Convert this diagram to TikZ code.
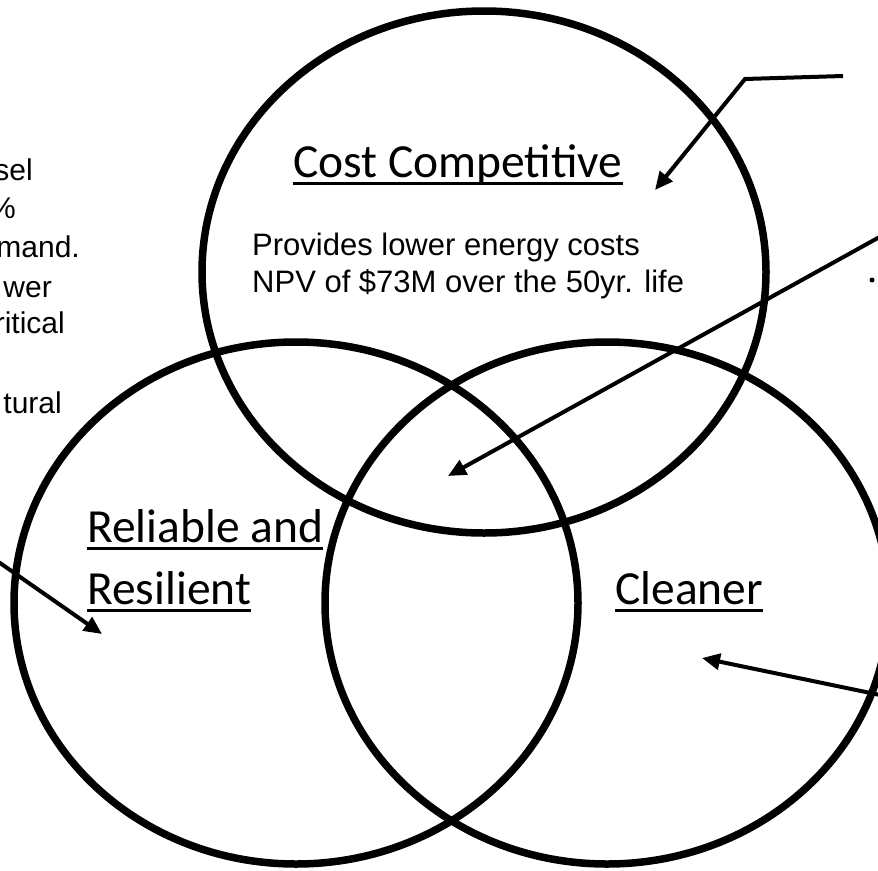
\documentclass[tikz,border=0pt]{standalone}
\usepackage{fontspec}
\setmainfont{Liberation Sans}
\newfontfamily\headfont{Carlito}
\usetikzlibrary{arrows.meta}
\begin{document}
\begin{tikzpicture}[x=1pt,y=-1pt,
  ring/.style={line width=7.5pt},
  pointer/.style={line width=4pt,-{Triangle[length=18pt,width=16pt]}},
  heading/.style={font=\headfont\fontsize{47.5}{58}\selectfont,inner sep=0pt,anchor=base west},
  body/.style={font=\fontsize{31}{37}\selectfont,inner sep=0pt,anchor=base west},
  side/.style={font=\fontsize{30}{38}\selectfont,inner sep=0pt,anchor=base east},
  rule/.style={line width=3pt}]
\useasboundingbox (0,0) rectangle (878,870);

% the three overlapping ovals
\draw[ring] (484,272) ellipse [x radius=282pt, y radius=261pt];
\draw[ring] (296,603) ellipse [x radius=282pt, y radius=261pt];
\draw[ring] (607,603) ellipse [x radius=282pt, y radius=261pt];

% headings with their underlines
\node[heading] (cost) at (293,177) {Cost Competitive};
\draw[rule] ([yshift=-6pt]cost.base west) -- ([yshift=-6pt]cost.base east);
\node[heading] (rel1) at (87,542) {Reliable and};
\draw[rule] ([yshift=-6pt]rel1.base west) -- ([yshift=-6pt]rel1.base east);
\node[heading] (rel2) at (87,604) {Resilient};
\draw[rule] ([yshift=-6pt]rel2.base west) -- ([yshift=-6pt]rel2.base east);
\node[heading] (clean) at (615,604) {Cleaner};
\draw[rule] ([yshift=-6pt]clean.base west) -- ([yshift=-6pt]clean.base east);

% body text of the top oval
\node[body] (costa) at (252,255) {Provides lower energy costs};
\node[body] (costb) at (252,292) {NPV of \$73M over the 50yr. life};

% text running in from the left edge
\node[side] (l1) at (33,180) {sel};
\node[side] (l2) at (16,218) {\%};
\node[side] (l3) at (80,257) {mand.};
\node[side] (l4) at (52,297) {wer};
\node[side] (l5) at (65,333) {ritical};
\node[side] (l6) at (62,413) {tural};

% mark at the right edge
\fill (872,280) circle [radius=2.5pt];

% pointers
\coordinate (p1s) at (843,76);
\coordinate (p1k) at (745,79);
\coordinate (p1e) at (655,190);
\draw[pointer] (p1s) -- (p1k) -- (p1e);

\coordinate (p2s) at (885,234);
\coordinate (p2e) at (448,476);
\draw[pointer] (p2s) -- (p2e);

\coordinate (p3s) at (-5,559.5);
\coordinate (p3e) at (102,634);
\draw[pointer] (p3s) -- (p3e);

\coordinate (p4s) at (885,696);
\coordinate (p4e) at (702,658);
\draw[pointer] (p4s) -- (p4e);
\end{tikzpicture}
\end{document}
